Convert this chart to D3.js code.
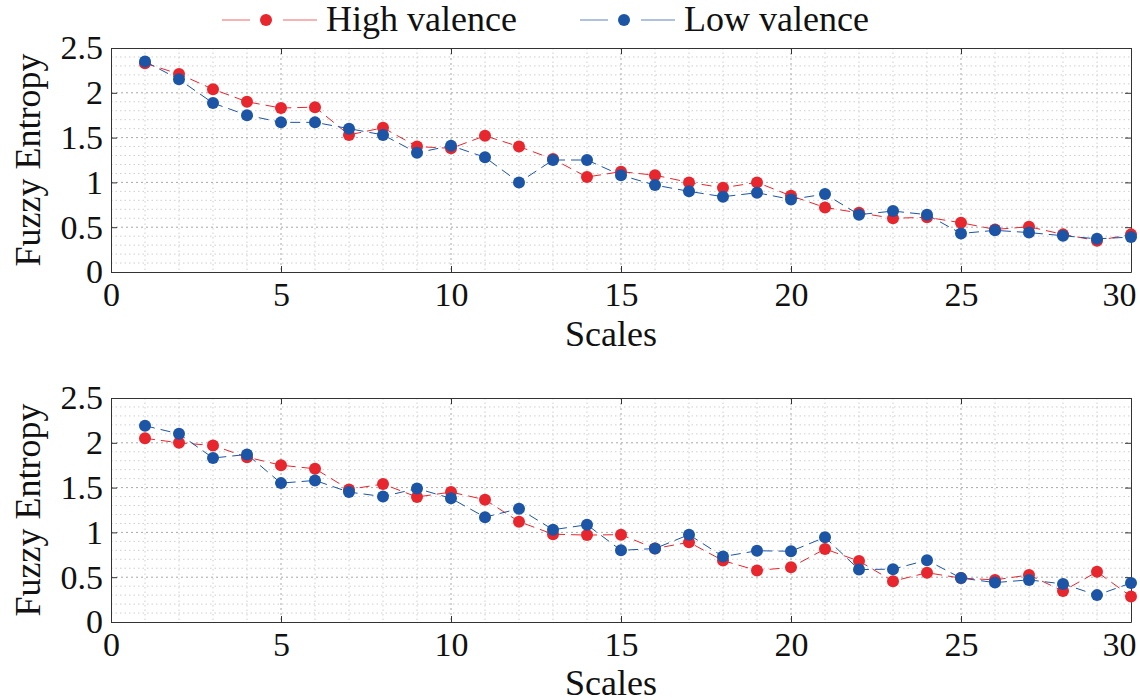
<!DOCTYPE html>
<html><head><meta charset="utf-8">
<script src="https://cdn.jsdelivr.net/npm/d3@7"></script>
<style>body{margin:0;background:#fff}svg{display:block}
svg text{font-family:"Liberation Serif","DejaVu Serif","Times New Roman",Times,serif}</style>
</head><body>
<svg id="c" width="1140" height="700"></svg>
<script>
const scales = d3.range(1, 31);
const xTicks = [0, 5, 10, 15, 20, 25, 30];
const yTicks = [0, 0.5, 1, 1.5, 2, 2.5];
const yTickLabels = ["0", "0.5", "1", "1.5", "2", "2.5"];
const seriesNames = ["High valence", "Low valence"];
const seriesColors = ["#e8262d", "#1c54a6"];

const topHigh = [2.33,2.21,2.04,1.90,1.83,1.84,1.53,1.61,1.40,1.38,1.52,1.40,1.26,1.06,1.12,1.08,1.00,0.94,1.00,0.85,0.72,0.66,0.60,0.61,0.55,0.475,0.505,0.42,0.35,0.42];
const topLow  = [2.35,2.15,1.885,1.75,1.67,1.67,1.60,1.53,1.33,1.41,1.28,1.00,1.25,1.25,1.08,0.97,0.90,0.84,0.885,0.81,0.87,0.64,0.68,0.64,0.43,0.465,0.44,0.405,0.37,0.39];
const botHigh = [2.05,2.00,1.97,1.84,1.75,1.71,1.48,1.54,1.395,1.45,1.365,1.12,0.98,0.97,0.975,0.82,0.89,0.685,0.575,0.61,0.815,0.68,0.455,0.55,0.49,0.47,0.525,0.345,0.56,0.285];
const botLow  = [2.19,2.10,1.83,1.87,1.55,1.58,1.45,1.40,1.49,1.38,1.17,1.265,1.03,1.085,0.80,0.82,0.975,0.73,0.795,0.79,0.945,0.585,0.59,0.69,0.49,0.44,0.47,0.425,0.30,0.435];

const svg = d3.select("#c");
const FONT = '"Liberation Serif", "DejaVu Serif", serif';
const L = 111, R = 1131;

function panel(top, bottom, dataSets, titleOffset) {
  const x = d3.scaleLinear().domain([0, 30]).range([L, R]);
  const y = d3.scaleLinear().domain([0, 2.5]).range([bottom, top]);
  const g = svg.append("g");
  // minor grid
  g.append("g").selectAll("line").data(d3.range(1, 30).filter(v => v % 5 !== 0)).join("line")
    .attr("x1", d => x(d)).attr("x2", d => x(d)).attr("y1", top).attr("y2", bottom)
    .attr("stroke", "#cfcfcf").attr("stroke-width", 1).attr("stroke-dasharray", "1.5,3");
  g.append("g").selectAll("line").data(d3.range(1, 25).filter(v => v % 5 !== 0).map(v => v / 10)).join("line")
    .attr("y1", d => y(d)).attr("y2", d => y(d)).attr("x1", L).attr("x2", R)
    .attr("stroke", "#cfcfcf").attr("stroke-width", 1).attr("stroke-dasharray", "1.5,3");
  // major grid
  g.append("g").selectAll("line").data(xTicks.slice(1, -1)).join("line")
    .attr("x1", d => x(d)).attr("x2", d => x(d)).attr("y1", top).attr("y2", bottom)
    .attr("stroke", "#a8a8a8").attr("stroke-width", 1).attr("stroke-dasharray", "2,3");
  g.append("g").selectAll("line").data(yTicks.slice(1, -1)).join("line")
    .attr("y1", d => y(d)).attr("y2", d => y(d)).attr("x1", L).attr("x2", R)
    .attr("stroke", "#a8a8a8").attr("stroke-width", 1).attr("stroke-dasharray", "2,3");

  // axes with inward ticks
  const ax = (a) => a.tickSizeInner(-6).tickSizeOuter(0);
  const bAx = g.append("g").attr("transform", `translate(0,${bottom})`)
    .call(ax(d3.axisBottom(x).tickValues(xTicks).tickFormat(d3.format("d"))));
  const tAx = g.append("g").attr("transform", `translate(0,${top})`)
    .call(ax(d3.axisTop(x).tickValues(xTicks).tickFormat("")));
  const lAx = g.append("g").attr("transform", `translate(${L},0)`)
    .call(ax(d3.axisLeft(y).tickValues(yTicks).tickFormat((d, i) => yTickLabels[i])));
  const rAx = g.append("g").attr("transform", `translate(${R},0)`)
    .call(ax(d3.axisRight(y).tickValues(yTicks).tickFormat("")));
  [bAx, tAx, lAx, rAx].forEach(a => {
    a.attr("font-family", null).attr("font-size", null);
    a.selectAll(".domain").attr("stroke", "#333");
    a.selectAll(".tick line").attr("stroke", "#333");
    a.selectAll("text").attr("font-family", FONT).attr("font-size", 34).attr("fill", "#111");
  });
  bAx.selectAll(".tick text").attr("y", 10).attr("dy", "0.71em");
  bAx.selectAll(".tick").filter(d => d === 30).select("text").attr("text-anchor", "end").attr("x", 5);
  lAx.selectAll(".tick text").attr("x", -8).attr("dy", "0.32em");

  // series
  dataSets.forEach((vals, si) => {
    const line = d3.line().x((d, i) => x(scales[i])).y(d => y(d));
    g.append("path").datum(vals).attr("d", line).attr("fill", "none")
      .attr("stroke", seriesColors[si]).attr("stroke-width", 1).attr("stroke-dasharray", "10,6");
    g.append("g").selectAll("circle").data(vals).join("circle")
      .attr("cx", (d, i) => x(scales[i])).attr("cy", d => y(d)).attr("r", 6)
      .attr("fill", seriesColors[si]);
  });

  // labels
  g.append("text").attr("x", (L + R) / 2 - 10).attr("y", bottom + titleOffset)
    .attr("text-anchor", "middle").attr("font-family", FONT).attr("font-size", 36).attr("fill", "#111")
    .text("Scales");
  g.append("text").attr("transform", `translate(40,${(top + bottom) / 2}) rotate(-90)`)
    .attr("text-anchor", "middle").attr("font-family", FONT).attr("font-size", 36).attr("fill", "#111")
    .text("Fuzzy Entropy");
}

panel(48, 272, [topHigh, topLow], 74);
panel(398, 622, [botHigh, botLow], 73);

// legend
const legend = svg.append("g");
const legX = [222, 580];
seriesNames.forEach((name, i) => {
  const g = legend.append("g").attr("transform", `translate(${legX[i]},20)`);
  g.append("line").attr("x1", 0).attr("x2", 95).attr("y1", 0).attr("y2", 0)
    .attr("stroke", seriesColors[i]).attr("stroke-width", 1).attr("stroke-dasharray", "28,33,34")
    .attr("opacity", 0.7);
  g.append("circle").attr("cx", 44).attr("cy", 0).attr("r", 6).attr("fill", seriesColors[i]);
  g.append("text").attr("x", 104).attr("y", 11).attr("font-family", FONT).attr("font-size", 36)
    .attr("fill", "#111").text(name);
});
</script>
</body></html>
